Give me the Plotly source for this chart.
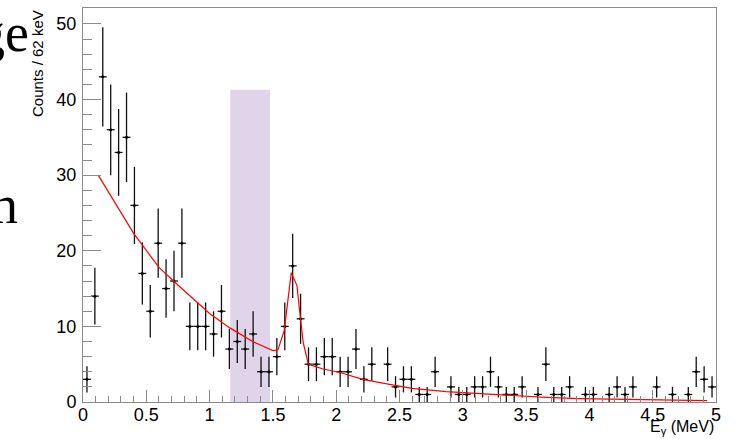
import numpy as np
import plotly.graph_objects as go

# ---- data ----
bin_width = 0.0625
counts = [3, 14, 43, 36, 33, 35, 26, 17, 12, 21,
          15, 16, 21, 10, 10, 10, 9, 12, 7, 8,
          7, 9, 4, 4, 6, 10, 18, 11, 5, 5,
          6, 6, 4, 4, 7, 3, 5, 0, 5, 2,
          3, 3, 1, 1, 4, 0, 2, 1, 1, 2,
          2, 4, 2, 1, 1, 2, 0, 1, 5, 1,
          1, 2, 0, 1, 1, 0, 1, 2, 1, 2,
          0, 0, 2, 0, 1, 0, 1, 4, 3, 2]

fit_x = [0.12, 0.25, 0.40, 0.60, 0.76, 1.00, 1.16, 1.34, 1.50, 1.54,
         1.59, 1.645, 1.69, 1.71, 1.74, 1.78, 1.89, 2.03, 2.21, 2.40,
         2.60, 2.87, 3.29, 3.66, 3.92, 4.19, 4.55, 4.93]
fit_y = [30.0, 26.5, 22.3, 17.8, 15.3, 11.7, 9.8, 8.0, 6.8, 6.9,
         9.5, 17.1, 15.4, 12.2, 7.8, 5.0, 4.4, 3.9, 3.0, 2.4,
         1.8, 1.37, 0.95, 0.6, 0.44, 0.35, 0.25, 0.18]

band_x = [1.163, 1.477]
band_top = 41.3

x_range = [0, 5]
y_range = [0, 52.1]

# ---- derived ----
cnt = np.array(counts, dtype=float)
centers = (np.arange(len(counts)) + 0.5) * bin_width
mask = cnt > 0
xc = centers[mask]
yc = cnt[mask]
err = np.sqrt(yc)

fig = go.Figure()

fig.add_shape(type="rect", xref="x", yref="y",
              x0=band_x[0], x1=band_x[1], y0=0, y1=band_top,
              fillcolor="rgb(224,212,235)", line=dict(width=0), layer="below")

fig.add_trace(go.Scatter(
    x=xc, y=yc, mode="markers",
    marker=dict(size=3, color="black"),
    error_y=dict(type="data", array=err, thickness=1.3, width=0, color="#111"),
    error_x=dict(type="constant", value=bin_width / 2, thickness=1.3, width=0, color="#111"),
    showlegend=False, hoverinfo="skip"))

fig.add_trace(go.Scatter(
    x=fit_x, y=fit_y, mode="lines",
    line=dict(color="red", width=1.2),
    showlegend=False, hoverinfo="skip"))

axis_col = "#8a8a8a"
tickfont = dict(family="Liberation Sans, Arial, sans-serif", size=18, color="black")

fig.update_xaxes(range=x_range, tick0=0, dtick=0.5, ticks="inside", ticklen=12,
                 tickcolor=axis_col, tickwidth=1, showline=True, linecolor=axis_col,
                 linewidth=1, mirror=True, showgrid=False, zeroline=False,
                 tickfont=tickfont, ticklabelstandoff=-4,
                 minor=dict(dtick=0.1, ticks="inside", ticklen=6, tickcolor=axis_col,
                            tickwidth=1, showgrid=False))
fig.update_yaxes(range=y_range, tick0=0, dtick=10, ticks="inside", ticklen=18,
                 tickcolor=axis_col, tickwidth=1, showline=True, linecolor=axis_col,
                 linewidth=1, mirror=True, showgrid=False, zeroline=False,
                 tickfont=tickfont, ticklabelstandoff=2,
                 minor=dict(dtick=2, ticks="inside", ticklen=9, tickcolor=axis_col,
                            tickwidth=1, showgrid=False))

W, H = 735, 439
ml, mr, mt, mb = 83, 19, 8, 37
pw = W - ml - mr
ph = H - mt - mb

def px_to_paper_x(px):
    return (px - ml) / pw

def px_to_paper_y(py):
    return (H - mb - py) / ph

annotations = [
    dict(text="E<sub>γ</sub> (MeV)", xref="paper", yref="paper",
         x=1.0, y=px_to_paper_y(427), xanchor="right", yanchor="middle",
         showarrow=False, font=dict(family="Liberation Sans, Arial, sans-serif", size=16, color="black")),
    dict(text="Counts / 62 keV", xref="paper", yref="paper", textangle=-90,
         x=px_to_paper_x(37.5), y=1.0, xanchor="center", yanchor="top",
         showarrow=False, font=dict(family="Liberation Sans, Arial, sans-serif", size=15, color="black")),
    dict(text="ge", xref="paper", yref="paper",
         x=px_to_paper_x(31), y=px_to_paper_y(33), xanchor="right", yanchor="middle",
         showarrow=False, font=dict(family="Liberation Serif, Times New Roman, serif", size=54, color="black")),
    dict(text="n", xref="paper", yref="paper",
         x=px_to_paper_x(20), y=px_to_paper_y(205), xanchor="right", yanchor="middle",
         showarrow=False, font=dict(family="Liberation Serif, Times New Roman, serif", size=54, color="black")),
]

fig.update_layout(width=W, height=H, margin=dict(l=ml, r=mr, t=mt, b=mb),
                  paper_bgcolor="white", plot_bgcolor="white",
                  annotations=annotations, showlegend=False)

fig.write_html("out.html")
